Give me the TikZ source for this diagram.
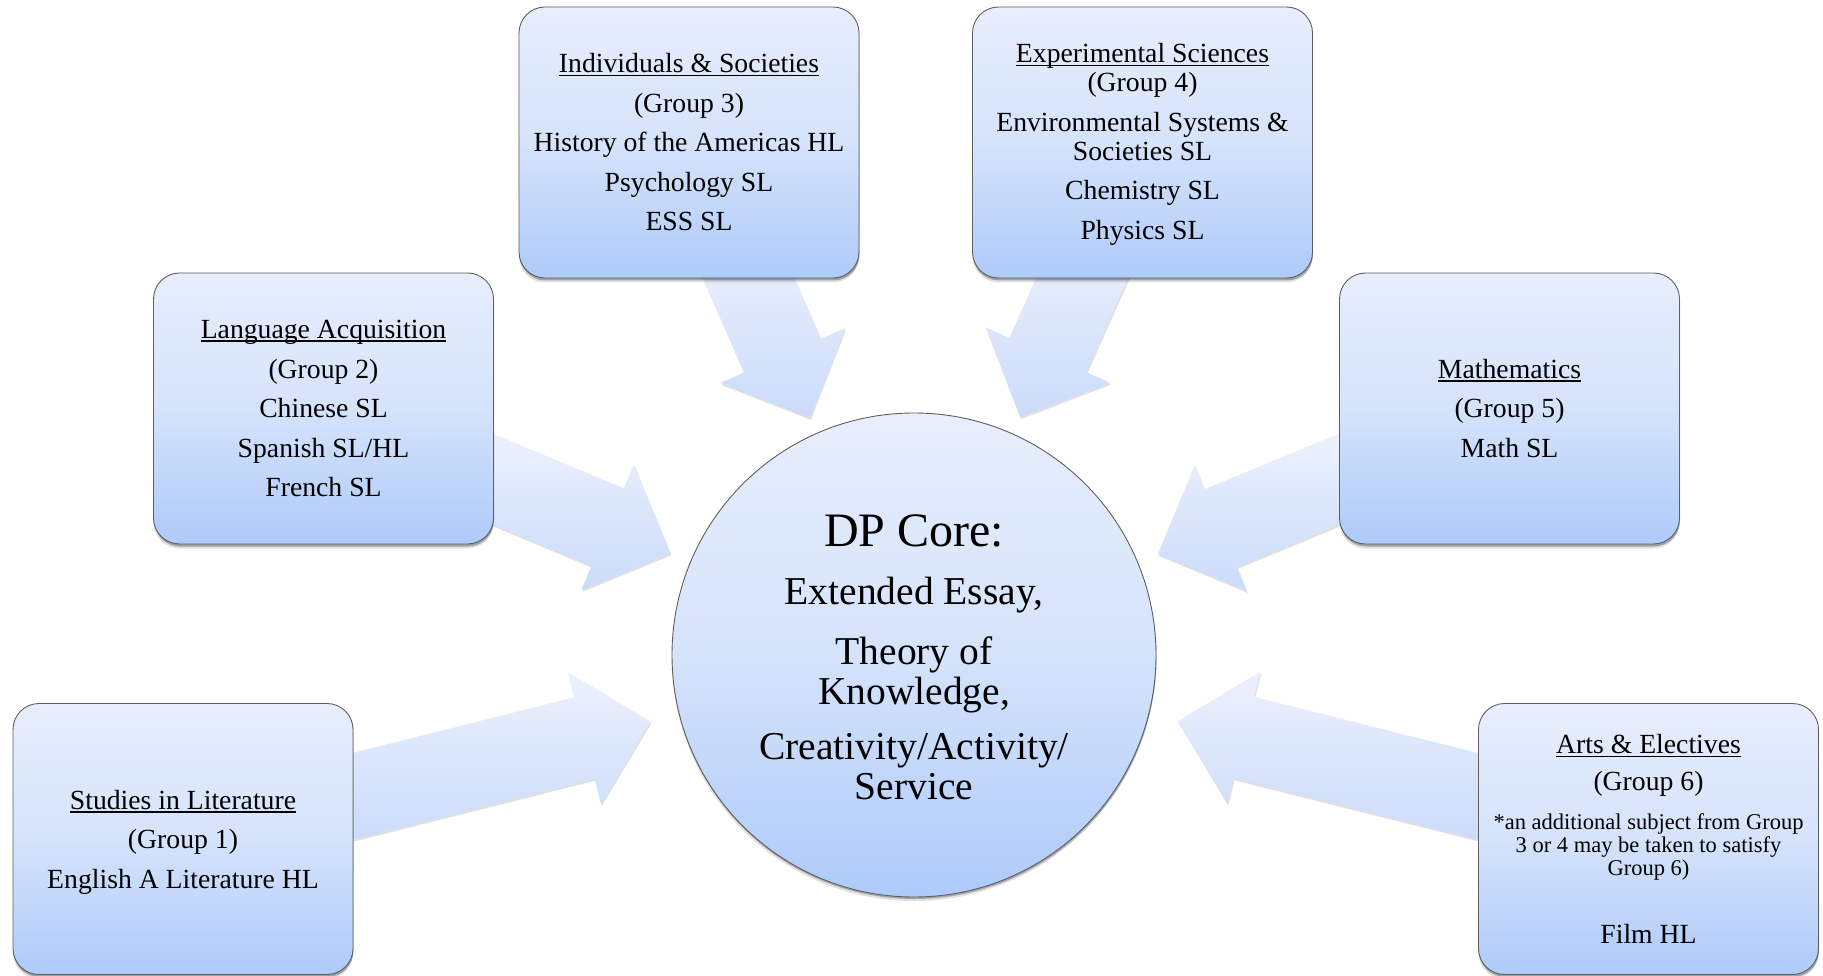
\documentclass[tikz,border=0pt]{standalone}
\usepackage{fontspec}
\setmainfont{Liberation Serif}
\usetikzlibrary{calc,shadows}
\definecolor{bxA}{RGB}{231,238,252}
\definecolor{bxM}{RGB}{213,227,251}
\definecolor{bxB}{RGB}{190,212,250}
\definecolor{bxC}{RGB}{174,203,250}
\definecolor{arA}{RGB}{236,241,253}
\definecolor{arB}{RGB}{202,219,250}
\definecolor{edgegray}{RGB}{95,95,95}
\pgfdeclareverticalshading{boxgrad}{100bp}{color(0bp)=(bxC); color(25bp)=(bxC); color(35bp)=(bxB); color(50bp)=(bxM); color(75bp)=(bxA); color(100bp)=(bxA)}
\pgfdeclarelayer{bg}
\pgfsetlayers{bg,main}
\newcommand\myul[1]{\leavevmode\setbox0=\hbox{#1}\rlap{\rule[-3.5pt]{\wd0}{1.7pt}}\box0}
\newcommand\boxfont{\fontsize{27.7}{29}\selectfont}
\newcommand\notefont{\fontsize{22.5}{23}\selectfont}
\newcommand\corefont{\fontsize{39.5}{40}\selectfont}
\newcommand\bigcorefont{\fontsize{48}{48}\selectfont}
% block arrow from box #1 toward core: #2 = tip distance from core centre, #3 = length from tip back to start
\newcommand\blockarrow[3]{%
  \coordinate (tip#1) at ($(core.center)!#2!(#1.center)$);
  \coordinate (start#1) at ($(tip#1)!#3!(#1.center)$);
  \coordinate (neck#1) at ($(tip#1)!68pt!(start#1)$);
  \path[blockarrowstyle]
    ($(start#1)!42pt!90:(tip#1)$) -- ($(neck#1)!42pt!-90:(start#1)$)
    -- ($(neck#1)!68pt!-90:(start#1)$) -- (tip#1)
    -- ($(neck#1)!68pt!90:(start#1)$) -- ($(neck#1)!42pt!90:(start#1)$)
    -- ($(start#1)!42pt!-90:(tip#1)$) -- cycle;
}
\tikzset{
  grpbox/.style={draw=edgegray, line width=0.9pt, rounded corners=26pt,
    minimum width=340pt, minimum height=271pt, inner sep=0pt,
    shade, shading=boxgrad, align=center, font=\boxfont, text=black,
    drop shadow={shadow xshift=0pt, shadow yshift=-4.5pt, opacity=0.12, fill=black},
    drop shadow={shadow xshift=0.5pt, shadow yshift=-2.5pt, opacity=0.28, fill=black}},
  corecircle/.style={circle, draw=edgegray, line width=0.9pt, minimum size=484pt, inner sep=0pt,
    shade, shading=boxgrad, align=center, font=\corefont, text=black,
    drop shadow={shadow xshift=0pt, shadow yshift=-4pt, opacity=0.12, fill=black},
    drop shadow={shadow xshift=0.5pt, shadow yshift=-2pt, opacity=0.25, fill=black}},
  blockarrowstyle/.style={top color=arA, bottom color=arB,
    drop shadow={shadow xshift=1pt, shadow yshift=-2pt, opacity=0.12, fill=black}}
}
\begin{document}
\begin{tikzpicture}[x=1pt,y=-1pt]
\useasboundingbox (0,0) rectangle (1823,976);
\begin{pgfonlayer}{bg}
\fill[white] (0,0) rectangle (1823,976);
\end{pgfonlayer}

\node[corecircle] (core) at (914,655) {{\bigcorefont\rule{0pt}{37pt}DP Core:}\\[18.3pt]
  Extended Essay,\\[20pt]
  Theory of\\
  Knowledge,\\[15pt]
  Creativity/Activity/\\
  Service};

\node[grpbox] (b3) at (689,142.5) {\myul{Individuals \& Societies}\\[10.5pt]
  (Group 3)\\[10.5pt] History of the Americas HL\\[10.5pt] Psychology SL\\[10.5pt] ESS SL};

\node[grpbox] (b4) at (1142.5,142.5) {\rule{0pt}{23pt}\myul{Experimental Sciences}\\
  (Group 4)\\[10.5pt] Environmental Systems \&\\ Societies SL\\[10.5pt] Chemistry SL\\[10.5pt] Physics SL};

\node[grpbox] (b2) at (323.5,408.5) {\myul{Language Acquisition}\\[10.5pt]
  (Group 2)\\[10.5pt] Chinese SL\\[10.5pt] Spanish SL/HL\\[10.5pt] French SL};

\node[grpbox] (b5) at (1509.5,408.5) {\myul{Mathematics}\\[10.5pt]
  (Group 5)\\[10.5pt] Math SL};

\node[grpbox] (b1) at (183,839) {\rule{0pt}{25.5pt}\myul{Studies in Literature}\\[10.5pt]
  (Group 1)\\[10.5pt] English A Literature HL};

\node[grpbox] (b6) at (1648.5,839) {\myul{Arts \& Electives}\\[7.5pt]
  (Group 6)\\[10.5pt]
  {\notefont *an additional subject from Group}\\[-6.2pt]
  {\notefont 3 or 4 may be taken to satisfy}\\[-6.2pt]
  {\notefont Group 6)}\\[39pt]
  Film HL};

\begin{pgfonlayer}{bg}
\blockarrow{b1}{272pt}{330pt}
\blockarrow{b2}{264pt}{215pt}
\blockarrow{b3}{259pt}{175pt}
\blockarrow{b4}{260.5pt}{175pt}
\blockarrow{b5}{264pt}{215pt}
\blockarrow{b6}{272pt}{330pt}
\end{pgfonlayer}
\end{tikzpicture}
\end{document}
